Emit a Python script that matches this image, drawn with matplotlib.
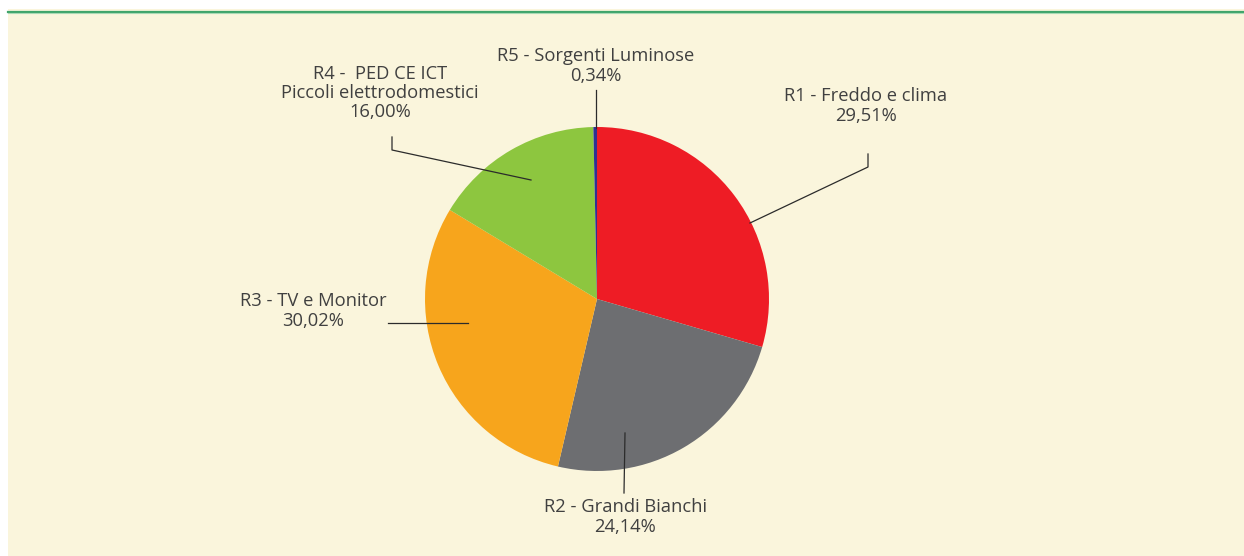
import matplotlib.pyplot as plt
from matplotlib.patches import Rectangle

categorie = ["R1 - Freddo e clima", "R2 - Grandi Bianchi", "R3 - TV e Monitor",
             "R4 -  PED CE ICT\nPiccoli elettrodomestici", "R5 - Sorgenti Luminose"]
quote = [29.51, 24.14, 30.02, 16.00, 0.34]
colori = ["#ee1c25", "#6d6e71", "#f7a51c", "#8dc63f", "#2e3192"]

W, H = 1244, 556

fig = plt.figure(figsize=(W / 100, H / 100), dpi=100)
fig.patch.set_facecolor("white")
ax = fig.add_axes([0, 0, 1, 1])
ax.set_xlim(0, W)
ax.set_ylim(0, H)
ax.set_aspect("equal")
ax.axis("off")

# sfondo crema e riga verde in alto
ax.add_patch(Rectangle((8, 0), W - 8, H - 9, facecolor="#faf5dc", edgecolor="none", zorder=0))
ax.plot([8, W], [H - 11.5, H - 11.5], color="#3fa46a", lw=1.6, zorder=1)
ax.plot([8, W], [H - 13, H - 13], color="#a9d9b4", lw=0.8, zorder=1)

cx, cy, r = 597, H - 299, 172
ax.pie(quote, colors=colori, startangle=90, counterclock=False,
       center=(cx, cy), radius=r, wedgeprops=dict(linewidth=0))
ax.set_xlim(0, W)
ax.set_ylim(0, H)

# etichette: posizione testo e spezzata della linea guida (pixel, y dall'alto)
testo_pos = [(866, 106), (625, 517), (313, 311), (380, 93), (596, 66)]
guide = [
    [(868, 154), (868, 167), (750, 223)],
    [(624, 493), (625, 433)],
    [(388, 323), (468, 323)],
    [(392, 137), (392, 150), (531, 180)],
    [(596, 90), (596, 128)],
]

for i in range(len(quote)):
    etichetta = categorie[i] + "\n" + ("%.2f" % quote[i]).replace(".", ",") + "%"
    tx, ty = testo_pos[i]
    ax.text(tx, H - ty, etichetta, ha="center", va="center", fontsize=13.2,
            color="#404040", family="Open Sans", linespacing=1.08, zorder=5)
    xs = [p[0] for p in guide[i]]
    ys = [H - p[1] for p in guide[i]]
    ax.plot(xs, ys, color="#2b2b2b", lw=0.9, zorder=4)

fig.savefig("out.png", dpi=100, facecolor=fig.get_facecolor())
